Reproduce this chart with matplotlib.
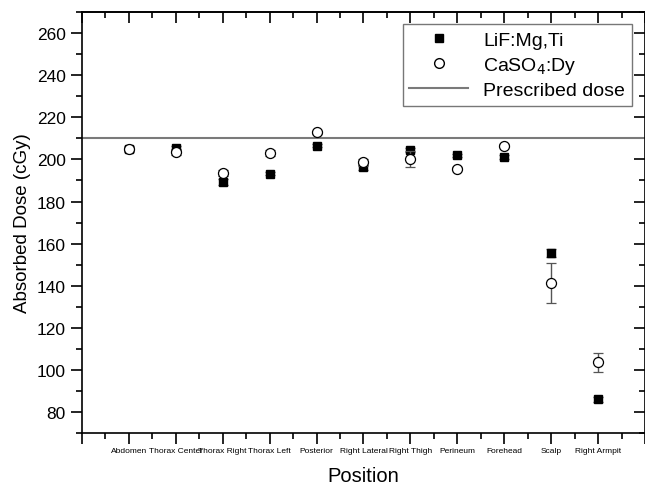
import numpy as np
import matplotlib
matplotlib.use('Agg')
import matplotlib.pyplot as plt
from matplotlib.ticker import MultipleLocator, FixedLocator, NullFormatter
from matplotlib.lines import Line2D

plt.rcParams['font.family'] = ['Liberation Sans', 'DejaVu Sans']

positions = ['Abdomen', 'Thorax Center', 'Thorax Right', 'Thorax Left', 'Posterior',
             'Right Lateral', 'Right Thigh', 'Perineum', 'Forehead', 'Scalp', 'Right Armpit']
lif = [205.0, 205.6, 189.4, 193.2, 206.5, 196.2, 204.3, 202.0, 201.1, 155.6, 86.0]
lif_err = [1.0, 1.0, 1.5, 0.8, 0.8, 1.0, 1.0, 0.8, 0.8, 2.0, 1.0]
caso4 = [205.0, 203.6, 193.7, 203.0, 212.8, 198.6, 200.2, 195.6, 206.6, 141.2, 103.7]
caso4_err = [1.5, 1.5, 1.5, 1.5, 0.8, 1.5, 4.0, 0.8, 0.8, 9.5, 4.5]
prescribed = 210

x = np.arange(1, len(positions) + 1)

fig = plt.figure(figsize=(6.45, 4.85), dpi=100)
ax = fig.add_axes([0.127, 0.105, 0.873, 0.868])

ax.axhline(prescribed, color='#7a7a7a', lw=1.5, zorder=1)
ax.errorbar(x, lif, yerr=lif_err, fmt='s', color='black', ms=6.3, ecolor='#555555',
            elinewidth=1, capsize=3.5, zorder=3)
ax.errorbar(x, caso4, yerr=caso4_err, fmt='o', mfc='white', mec='black', mew=0.9, ms=7.2,
            ecolor='#555555', elinewidth=1, capsize=3.5, zorder=4)

ax.set_xlim(0, 12)
ax.set_ylim(70, 270)
ax.xaxis.set_major_locator(FixedLocator(np.arange(0, 13)))
ax.set_xticklabels([''] + positions + [''], fontsize=6)
ax.xaxis.set_minor_locator(MultipleLocator(0.5))
ax.yaxis.set_major_locator(FixedLocator(np.arange(80, 261, 20)))
ax.yaxis.set_minor_locator(MultipleLocator(10))
ax.tick_params(axis='y', labelsize=12.5)
ax.tick_params(which='major', direction='out', length=8, width=1.2)
ax.tick_params(which='minor', direction='out', length=4, width=1.2)
ax.tick_params(axis='x', which='major', pad=2)
for s in ax.spines.values():
    s.set_linewidth(1.2)

# top and right axes with inward ticks
top = ax.secondary_xaxis('top')
top.xaxis.set_major_locator(FixedLocator(np.arange(0, 13)))
top.xaxis.set_minor_locator(MultipleLocator(0.5))
top.xaxis.set_major_formatter(NullFormatter())
top.tick_params(which='major', direction='in', length=8, width=1.2)
top.tick_params(which='minor', direction='in', length=4, width=1.2)
top.spines['top'].set_linewidth(1.2)

right = ax.secondary_yaxis('right')
right.yaxis.set_major_locator(FixedLocator(np.arange(80, 261, 20)))
right.yaxis.set_minor_locator(MultipleLocator(10))
right.yaxis.set_major_formatter(NullFormatter())
right.tick_params(which='major', direction='in', length=8, width=1.2)
right.tick_params(which='minor', direction='in', length=4, width=1.2)

ax.set_xlabel('Position', fontsize=14.5, labelpad=9)
ax.set_ylabel('Absorbed Dose (cGy)', fontsize=13.5)

handles = [
    Line2D([], [], ls='none', marker='s', color='black', ms=6.3),
    Line2D([], [], ls='none', marker='o', mfc='white', mec='black', ms=7),
    Line2D([], [], color='#7a7a7a', lw=1.5),
]
labels = ['LiF:Mg,Ti', 'CaSO$_4$:Dy', 'Prescribed dose']
leg = ax.legend(handles, labels, loc='upper right', bbox_to_anchor=(0.977, 0.971),
                fontsize=14, frameon=True, fancybox=False, edgecolor='#555555',
                borderpad=0.35, handlelength=3, labelspacing=0.3, borderaxespad=0)
leg.get_frame().set_linewidth(1.0)

fig.savefig('out.png', dpi=100)
